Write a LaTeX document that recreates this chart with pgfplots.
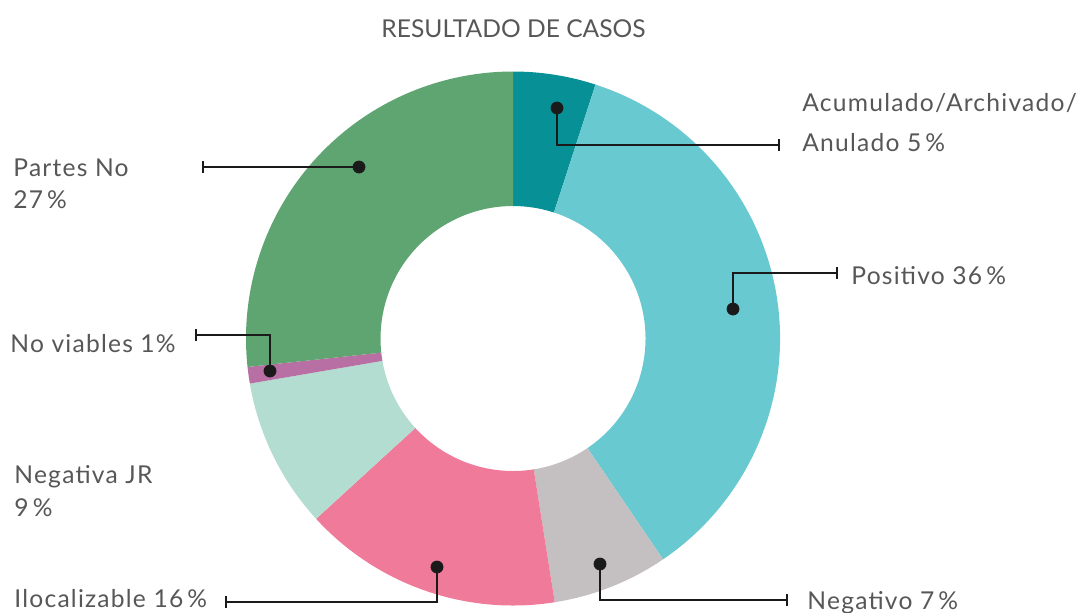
\documentclass[border=0pt]{standalone}
\usepackage{pgfplots}
\usepackage{pgfplotstable}
\pgfplotsset{compat=1.18}
\usepackage{fontspec}
\setmainfont{Lato}
\newfontfamily\labelfont[LetterSpace=5]{Lato}
\definecolor{c0}{HTML}{079095}
\definecolor{c1}{HTML}{69C9D1}
\definecolor{c2}{HTML}{C4C0C1}
\definecolor{c3}{HTML}{F07A99}
\definecolor{c4}{HTML}{B3DDD0}
\definecolor{c5}{HTML}{B86FA4}
\definecolor{c6}{HTML}{5FA571}
\definecolor{txt}{HTML}{575757}
\definecolor{lead}{HTML}{1A1A1A}

% share of each outcome (percent of cases), clockwise from the top
\pgfplotstableread{
label value
Acumulado 5.0
Positivo 35.5
Negativo 7.0
Ilocalizable 15.7
NegativaJR 9.1
NoViables 1.0
PartesNo 26.7
}\casos

\begin{document}
\begin{tikzpicture}
\begin{axis}[name=ax, scale only axis, width=543pt, height=306pt,
  xmin=0, xmax=1086, ymin=0, ymax=612, y dir=reverse,
  hide axis, clip=false,
  leadline/.style={draw=lead, line width=1.3pt, mark=none, solid}]
\pgfplotsextra{%
  \pgfplotstablegetrowsof{\casos}%
  \pgfmathtruncatemacro\N{\pgfplotsretval-1}%
  \gdef\cum{0}%
  \foreach \i in {0,...,\N}{%
    \pgfplotstablegetelem{\i}{value}\of\casos
    \let\v\pgfplotsretval
    \pgfmathsetmacro\a{90-3.6*\cum}%
    \pgfmathsetmacro\b{90-3.6*(\cum+\v)}%
    \fill[c\i, shift={(axis cs:513,338.5)}]
      (\a:133.5pt) arc[start angle=\a, end angle=\b, radius=133.5pt]
      -- (\b:66.25pt) arc[start angle=\b, end angle=\a, radius=66.25pt] -- cycle;
    \pgfmathsetmacro\newcum{\cum+\v}%
    \global\let\cum\newcum
  }%
}
% leader lines
\addplot[leadline] coordinates {(557,108) (557,145) (779,145)};
\addplot[leadline] coordinates {(779,139) (779,151)};
\addplot[leadline] coordinates {(733,309) (733,273) (837,273)};
\addplot[leadline] coordinates {(837,267) (837,279)};
\addplot[leadline] coordinates {(600,564) (600,600) (787,600)};
\addplot[leadline] coordinates {(787,594) (787,606)};
\addplot[leadline] coordinates {(437,567) (437,602) (226,602)};
\addplot[leadline] coordinates {(226,596) (226,608)};
\addplot[leadline] coordinates {(270,371) (270,335) (196,335)};
\addplot[leadline] coordinates {(196,329) (196,341)};
\addplot[leadline] coordinates {(359,167) (203,167)};
\addplot[leadline] coordinates {(203,161) (203,173)};
\addplot[only marks, mark=*, mark size=3pt, mark options={fill=lead, draw=lead, solid}]
  coordinates {(557,108) (733,309) (600,564) (437,567) (270,371) (359,167)};
% labels
\begin{scope}[every node/.style={inner sep=0pt, anchor=base west, text=txt, font=\labelfont\fontsize{12.3}{14}\selectfont}]
\node at (axis cs:802,111.5) {Acumulado/Archivado/};
\node at (axis cs:802,151.5) {Anulado 5\,\%};
\node at (axis cs:851,284) {Positivo 36\,\%};
\node at (axis cs:807,609) {Negativo 7\,\%};
\node at (axis cs:14,607) {Ilocalizable 16\,\%};
\node at (axis cs:14,483) {Negativa JR};
\node at (axis cs:14,516) {9\,\%};
\node at (axis cs:10,352) {No viables 1\%};
\node at (axis cs:13,176) {Partes No};
\node at (axis cs:13,208) {27\,\%};
\end{scope}
\node[inner sep=0pt, anchor=base, text=txt, font=\fontsize{12.3}{14}\selectfont] at (axis cs:513.5,37) {RESULTADO DE CASOS};
\end{axis}
\pgfresetboundingbox
\path (ax.south west) rectangle (ax.north east);
\end{tikzpicture}
\end{document}
